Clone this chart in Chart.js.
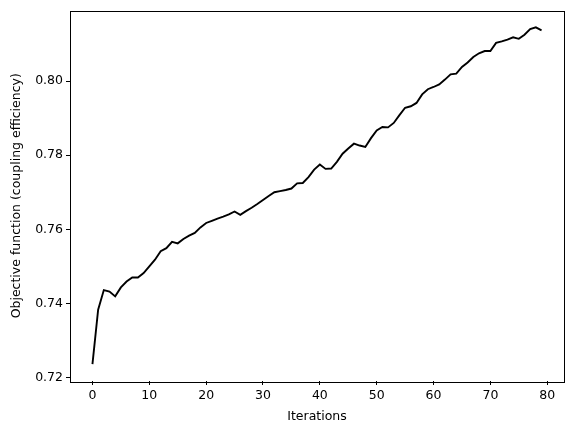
<!DOCTYPE html>
<html>
<head>
<meta charset="utf-8">
<script src="https://cdn.jsdelivr.net/npm/chart.js@4/dist/chart.umd.min.js"></script>
<style>
    html, body { margin: 0; padding: 0; background: #fff; }
    canvas { display: block; }
</style>
</head>
<body>
<canvas id="lineChart" width="576" height="432"></canvas>
<script>
// values
const iterations = Array.from({ length: 80 }, (_, i) => i);
const objective = [
    0.7236, 0.7383, 0.7436, 0.7432, 0.7419, 0.7443, 0.7459, 0.7470, 0.7470, 0.7482,
    0.7500, 0.7518, 0.7541, 0.7549, 0.7566, 0.7562, 0.7574, 0.7583, 0.7590, 0.7605,
    0.7617, 0.7623, 0.7629, 0.7634, 0.7640, 0.7648, 0.7639, 0.7649, 0.7658, 0.7668,
    0.7679, 0.7690, 0.7700, 0.7703, 0.7706, 0.7710, 0.7724, 0.7725, 0.7741, 0.7761,
    0.7775, 0.7763, 0.7764, 0.7782, 0.7804, 0.7818, 0.7831, 0.7826, 0.7822, 0.7846,
    0.7867, 0.7876, 0.7875, 0.7887, 0.7908, 0.7928, 0.7932, 0.7941, 0.7964, 0.7978,
    0.7984, 0.7991, 0.8004, 0.8018, 0.8020, 0.8038, 0.8050, 0.8065, 0.8075, 0.8081,
    0.8081, 0.8103, 0.8107, 0.8112, 0.8118, 0.8114, 0.8125, 0.8140, 0.8145, 0.8137
];
const xTicks = [0, 10, 20, 30, 40, 50, 60, 70, 80];
const yTicks = [0.72, 0.74, 0.76, 0.78, 0.80];

const font = { family: 'DejaVu Sans', size: 12.5 };

// matplotlib style 5% margins
const xPad = (iterations[iterations.length - 1] - iterations[0]) * 0.05;
const yLo = Math.min(...objective), yHi = Math.max(...objective);
const yPad = (yHi - yLo) * 0.05;

// full box around the plot area (all four spines)
const frame = {
    id: 'frame',
    afterDraw(chart) {
        const { ctx, chartArea: a } = chart;
        ctx.save();
        ctx.strokeStyle = '#000';
        ctx.lineWidth = 1;
        ctx.strokeRect(Math.round(a.left) + 0.5, Math.round(a.top) + 0.5,
            Math.round(a.right - a.left), Math.round(a.bottom - a.top));
        ctx.restore();
    }
};

new Chart(document.getElementById('lineChart'), {
    type: 'line',
    data: {
        datasets: [{
            label: 'Objective',
            data: iterations.map((x, i) => ({ x: x, y: objective[i] })),
            borderColor: '#000',
            borderWidth: 1.9,
            pointRadius: 0,
            tension: 0,
            fill: false
        }]
    },
    options: {
        responsive: false,
        animation: false,
        layout: { padding: { top: 10, right: 12, left: 0, bottom: 0 } },
        plugins: { legend: { display: false }, tooltip: { enabled: false } },
        scales: {
            x: {
                type: 'linear',
                min: iterations[0] - xPad,
                max: iterations[iterations.length - 1] + xPad,
                afterBuildTicks: s => { s.ticks = xTicks.map(v => ({ value: v })); },
                afterFit: s => { s.height = 51; },
                grid: { display: true, drawOnChartArea: false, drawTicks: true, tickLength: 4, color: '#000' },
                border: { display: false },
                ticks: { color: '#000', font: font, padding: 3, maxRotation: 0, callback: v => String(v) },
                title: { display: true, text: 'Iterations', color: '#000', font: font, padding: { top: 2, bottom: 8 } }
            },
            y: {
                type: 'linear',
                min: yLo - yPad,
                max: yHi + yPad,
                afterBuildTicks: s => { s.ticks = yTicks.map(v => ({ value: v })); },
                afterFit: s => { s.width = 70; },
                grid: { display: true, drawOnChartArea: false, drawTicks: true, tickLength: 4, color: '#000' },
                border: { display: false },
                ticks: { color: '#000', font: font, padding: 3, callback: v => v.toFixed(2) },
                title: { display: true, text: 'Objective function (coupling efficiency)', color: '#000', font: font, padding: { top: 9, bottom: 2 } }
            }
        }
    },
    plugins: [frame]
});
</script>
</body>
</html>
